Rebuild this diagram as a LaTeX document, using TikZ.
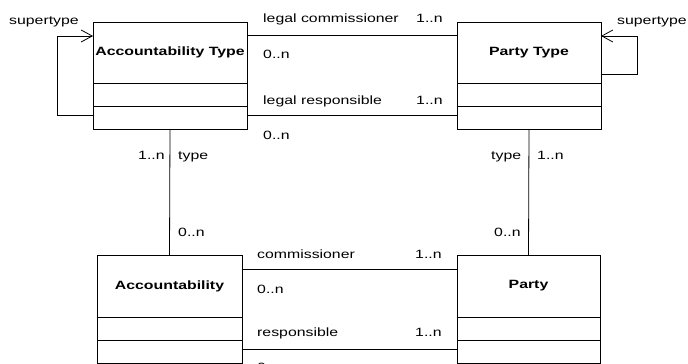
\documentclass[tikz,border=0pt]{standalone}
\usepackage{fontspec}
\setmainfont{Liberation Sans}[FakeStretch=1.32]
\usetikzlibrary{arrows.meta,positioning}

\begin{document}
\begin{tikzpicture}[x=1pt,y=-1pt,
   font=\fontsize{12}{14}\selectfont,
   cls/.style={draw,line width=0.8pt,font=\fontsize{12}{14}\selectfont\bfseries,inner sep=0pt,outer sep=0pt},
   cmp/.style={draw,line width=0.8pt,minimum height=23pt,inner sep=0pt,outer sep=0pt},
   lbl/.style={anchor=base west,inner sep=0pt},
   assoc/.style={line width=0.8pt},
   super/.style={line width=0.8pt,-{Straight Barb[length=11pt,width=12pt,line width=0.8pt]}}]
      \path[use as bounding box,clip] (0,0) rectangle (688,364);
      \node[cls,minimum width=154pt,minimum height=61pt] (at) at (170,52.5) {Accountability Type};
      \node[cmp,minimum width=154pt,below=0pt of at] (atA) {};
      \node[cmp,minimum width=154pt,below=0pt of atA] (atO) {};
      \node[cls,minimum width=144pt,minimum height=61pt] (pt) at (529,52.5) {Party Type};
      \node[cmp,minimum width=144pt,below=0pt of pt] (ptA) {};
      \node[cmp,minimum width=144pt,below=0pt of ptA] (ptO) {};
      \node[cls,minimum width=145pt,minimum height=62pt] (ac) at (169.5,286) {Accountability};
      \node[cmp,minimum width=145pt,below=0pt of ac] (acA) {};
      \node[cmp,minimum width=145pt,below=0pt of acA] (acO) {};
      \node[cls,minimum width=143pt,minimum height=62pt] (pa) at (528.5,286) {Party};
      \node[cmp,minimum width=143pt,below=0pt of pa] (paA) {};
      \node[cmp,minimum width=143pt,below=0pt of paA] (paO) {};
         \draw[assoc] ([yshift=-13pt]at.north east) -- ([yshift=-13pt]pt.north west);
         \draw[assoc] ([yshift=2pt]atO.east) -- ([yshift=2pt]ptO.west);
         \draw[assoc] (atO.south) -- (ac.north);
         \draw[assoc] (ptO.south) -- (pa.north);
         \draw[assoc] ([yshift=-14pt]ac.north east) -- ([yshift=-14pt]pa.north west);
         \draw[assoc] ([yshift=2pt]acO.east) -- ([yshift=2pt]paO.west);
         \draw[super] ([yshift=2pt]atO.west) -- ++(-36,0) |- ([yshift=-14pt]at.north west);
         \draw[super] ([yshift=9pt]pt.south east) -- ++(36,0) |- ([yshift=-14pt]pt.north east);
      \node[lbl] (st1) at (9,24) {supertype};
      \node[lbl] (st2) at (617,24) {supertype};
      \node[lbl] (lc) at (263,23) {legal commissioner};
      \node[lbl] (lc1) at (416,23) {1..n};
      \node[lbl] (lc0) at (263,58) {0..n};
      \node[lbl] (lr) at (263,104) {legal responsible};
      \node[lbl] (lr1) at (416,104) {1..n};
      \node[lbl] (lr0) at (263,139) {0..n};
      \node[lbl] (t1) at (138,159) {1..n};
      \node[lbl] (t2) at (178,159) {type};
      \node[lbl] (t3) at (491,159) {type};
      \node[lbl] (t4) at (537,159) {1..n};
      \node[lbl] (t5) at (178,236) {0..n};
      \node[lbl] (t6) at (494,236) {0..n};
      \node[lbl] (cm) at (257,258) {commissioner};
      \node[lbl] (cm1) at (415,258) {1..n};
      \node[lbl] (cm0) at (257,293) {0..n};
      \node[lbl] (rs) at (257,336) {responsible};
      \node[lbl] (rs1) at (415,336) {1..n};
      \node[lbl] (rs0) at (257,371) {0..n};
\end{tikzpicture}
\end{document}
